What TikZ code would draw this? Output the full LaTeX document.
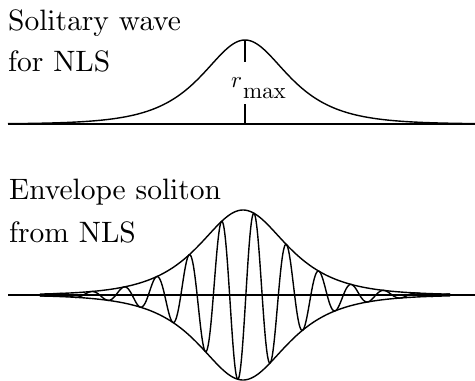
\documentclass[tikz,border=0pt]{standalone}
\font\capfnt=cmr10 at 29.5pt
\font\labrm=cmr10 at 23pt
\font\labmi=cmmi10 at 23pt
\begin{document}
\begin{tikzpicture}[x=1pt,y=-1pt,
  curve/.style={line width=1.4pt,line join=round},
  axisline/.style={line width=1.4pt},
  lbl/.style={font=\capfnt,inner sep=0pt,anchor=base west}]
\useasboundingbox (0,0) rectangle (475,381);
% top panel
\node[lbl] (t1) at (8,30) {Solitary wave};
\node[lbl] (t2) at (8,71) {for NLS};
\coordinate (axL) at (8,124);
\coordinate (axR) at (475,124);
\draw[axisline] (axL) -- (axR);
\draw[curve] plot[domain=8:475,samples=300] (\x,{124-84/cosh((\x-245)/38)});
\coordinate (peak) at (245,40);
\coordinate (ltop) at (245,62);
\coordinate (lbot) at (245,104);
\coordinate (base) at (245,124);
\node[inner sep=0pt,anchor=base west] (rmax) at (231,87) {\labmi r\hspace{1.5pt}\raisebox{-11pt}{\labrm max}};
\draw[axisline] (peak) -- (ltop);
\draw[axisline] (lbot) -- (base);
% bottom panel
\node[lbl] (b1) at (9,199) {Envelope soliton};
\node[lbl] (b2) at (9,242) {from NLS};
\coordinate (bxL) at (8,295);
\coordinate (bxR) at (475,295);
\draw[axisline] (bxL) -- (bxR);
\draw[curve] plot[domain=40:450,samples=300] (\x,{295-85/cosh((\x-243)/39)});
\draw[curve] plot[domain=40:450,samples=300] (\x,{295+85/cosh((\x-243)/39)});
\draw[curve] plot[domain=40:450,samples=900] (\x,{295-85*cos(11.077*(\x-254))/cosh((\x-243)/39)});
\end{tikzpicture}
\end{document}
